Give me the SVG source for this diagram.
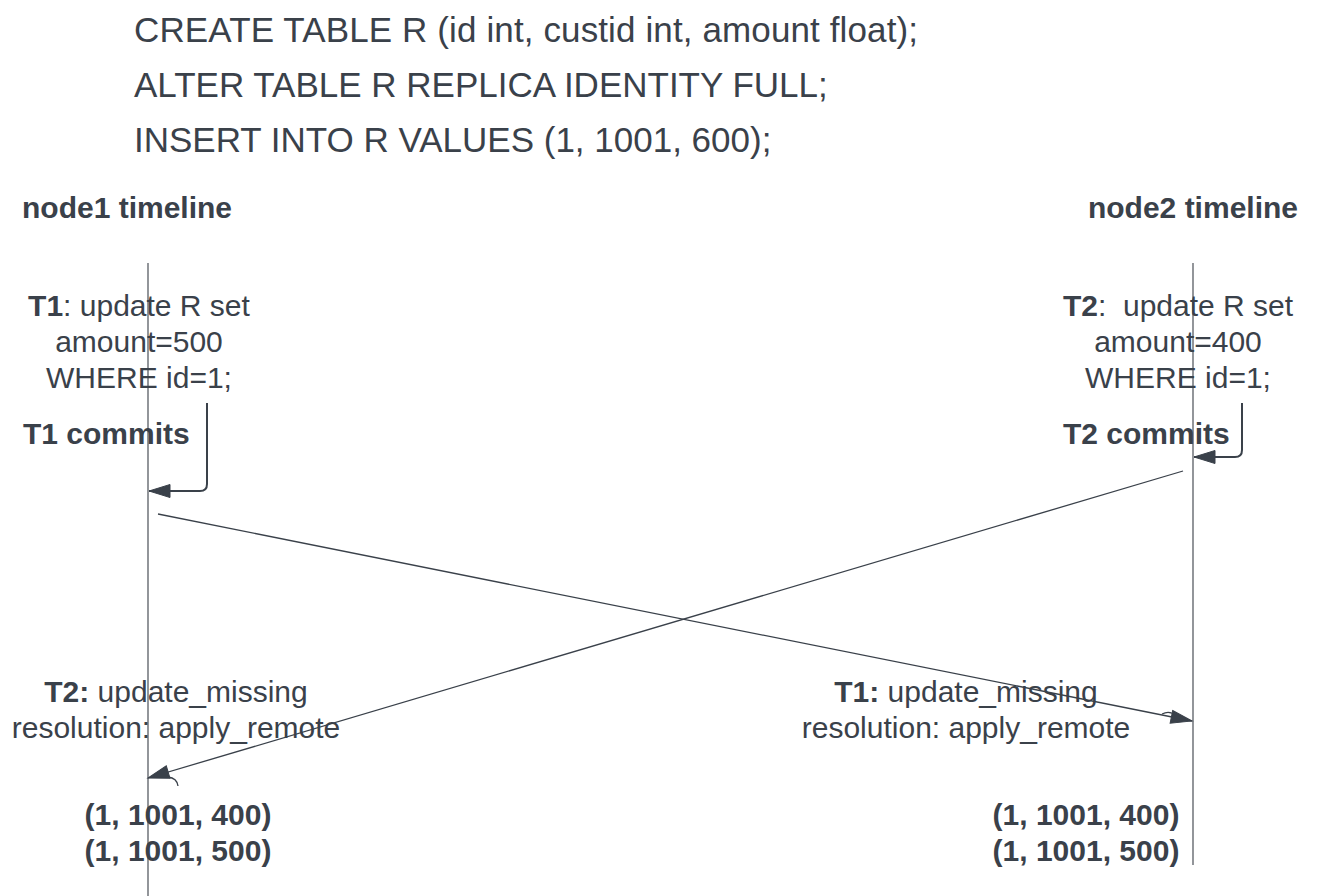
<svg xmlns="http://www.w3.org/2000/svg" width="1320" height="896" viewBox="0 0 1320 896">
<style>
text { font-family: "Liberation Sans", Arial, sans-serif; fill: #3a414a; white-space: pre; }
.sql { font-size: 35px; }
.lbl { font-size: 30px; text-anchor: middle; }
.b { font-weight: bold; }
.h { font-size: 30px; font-weight: bold; }
.tl { stroke: #4a4f57; stroke-width: 1.2; fill: none; }
.msg { stroke: #3a414a; stroke-width: 1.3; fill: none; }
.elb { stroke: #3a414a; stroke-width: 2; fill: none; }
</style>
<defs>
<marker id="arr" markerUnits="userSpaceOnUse" markerWidth="24" markerHeight="16" refX="21" refY="8" orient="auto" overflow="visible">
<path d="M0,1.5 L21,8 L0,14.5 z" fill="#3a414a" stroke="#3a414a" stroke-width="1"/>
</marker>
</defs>
<rect width="1320" height="896" fill="#ffffff"/>
<g id="sql">
<text class="sql" x="134" y="42" textLength="784">CREATE TABLE R (id int, custid int, amount float);</text>
<text class="sql" x="134" y="97">ALTER TABLE R REPLICA IDENTITY FULL;</text>
<text class="sql" x="134" y="152">INSERT INTO R VALUES (1, 1001, 600);</text>
</g>
<g id="node1">
<text class="h" x="22" y="218">node1 timeline</text>
<line class="tl" x1="148" y1="263" x2="148" y2="896"/>
</g>
<g id="node2">
<text class="h" x="1298" y="218" text-anchor="end">node2 timeline</text>
<line class="tl" x1="1193" y1="263" x2="1193" y2="865"/>
</g>
<g id="t1-update">
<text class="lbl" x="139" y="316"><tspan class="b">T1</tspan>: update R set</text>
<text class="lbl" x="139" y="352">amount=500</text>
<text class="lbl" x="139" y="388">WHERE id=1;</text>
</g>
<g id="t1-commits">
<text class="h" x="23" y="444">T1 commits</text>
</g>
<g id="t2-update">
<text class="lbl" x="1178" y="316"><tspan class="b">T2</tspan>:  update R set</text>
<text class="lbl" x="1178" y="352">amount=400</text>
<text class="lbl" x="1178" y="388">WHERE id=1;</text>
</g>
<g id="t2-commits">
<text class="h" x="1063" y="444">T2 commits</text>
</g>
<g id="node1-conflict">
<text class="lbl" x="176" y="702"><tspan class="b">T2:</tspan> update_missing</text>
<text class="lbl" x="176" y="738">resolution: apply_remote</text>
</g>
<g id="node2-conflict">
<text class="lbl" x="966" y="702"><tspan class="b">T1:</tspan> update_missing</text>
<text class="lbl" x="966" y="738">resolution: apply_remote</text>
</g>
<g id="node1-result">
<text class="lbl b" x="178" y="825">(1, 1001, 400)</text>
<text class="lbl b" x="178" y="861">(1, 1001, 500)</text>
</g>
<g id="node2-result">
<text class="lbl b" x="1086" y="825">(1, 1001, 400)</text>
<text class="lbl b" x="1086" y="861">(1, 1001, 500)</text>
</g>
<g id="connectors">
<path class="elb" d="M207,403 V484 Q207,491 200,491 H149" marker-end="url(#arr)"/>
<path class="elb" d="M1242,403 V450 Q1242,457 1235,457 H1194" marker-end="url(#arr)"/>
<path class="msg" d="M158,514 L1192,721" marker-end="url(#arr)"/>
<path class="msg" d="M1183,471 L148,778" marker-end="url(#arr)"/>
<path class="msg" d="M168,777 Q177,778 178,786"/>
<path class="msg" d="M1162,714 Q1170,710 1176,716"/>
</g>
</svg>
